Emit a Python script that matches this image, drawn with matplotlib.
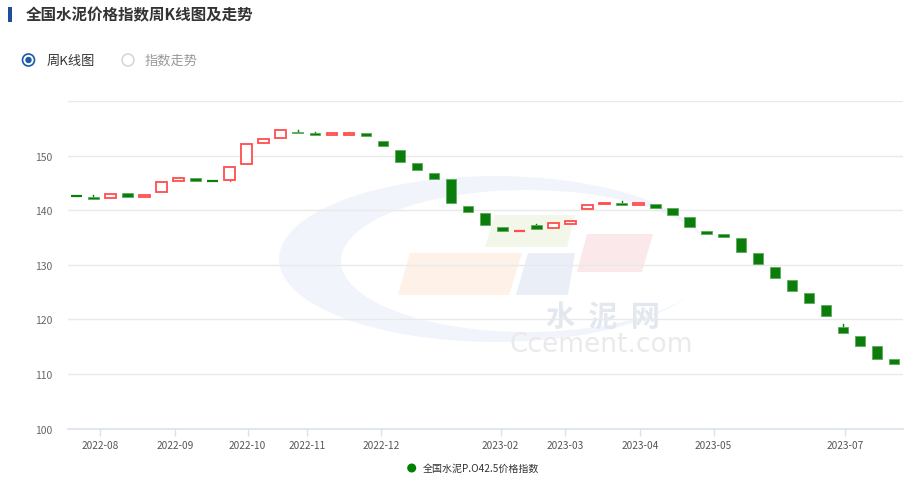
import matplotlib
matplotlib.use("Agg")
import matplotlib.pyplot as plt
from matplotlib.patches import Rectangle, Ellipse, Polygon, Circle
import numpy as np

plt.rcParams['font.family'] = ['Noto Sans CJK SC', 'DejaVu Sans']

# ---------------- data ----------------
opens = [142.65, 142.4, 142.2, 143.1, 142.45, 143.4, 145.3, 145.9, 145.45, 145.6,
         148.5, 152.4, 153.2, 154.4, 154.2, 153.8, 153.8, 154.1, 152.8, 151.1,
         148.7, 146.8, 145.8, 140.75, 139.5, 136.9, 136.15, 137.3, 136.8, 137.5,
         140.3, 141.2, 141.4, 140.9, 141.2, 140.5, 138.85, 136.3, 135.7, 134.9,
         132.1, 129.6, 127.2, 124.9, 122.6, 118.7, 117.0, 115.1, 112.8]
closes = [142.55, 142.0, 142.95, 142.45, 142.8, 145.2, 145.9, 145.45, 145.35, 148.0,
          152.1, 153.1, 154.7, 154.1, 153.8, 154.1, 154.2, 153.6, 151.75, 148.8,
          147.35, 145.8, 141.4, 139.7, 137.3, 136.2, 136.25, 136.5, 137.6, 138.05,
          141.05, 141.4, 141.05, 141.3, 140.4, 139.1, 136.9, 135.6, 135.2, 132.4,
          130.2, 127.65, 125.3, 123.1, 120.7, 117.5, 115.2, 112.8, 111.9]
highs = [142.65, 142.8, 142.95, 143.1, 142.8, 145.2, 145.9, 145.9, 145.45, 148.0,
         152.1, 153.1, 154.7, 154.7, 154.4, 154.1, 154.3, 154.1, 152.8, 151.1,
         148.7, 146.8, 145.8, 140.75, 139.5, 136.9, 136.25, 137.55, 137.6, 138.05,
         141.05, 141.4, 141.7, 141.3, 141.2, 140.5, 138.85, 136.3, 135.7, 134.9,
         132.1, 129.6, 127.2, 124.9, 122.6, 119.2, 117.0, 115.1, 112.8]
lows = [142.55, 142.0, 142.2, 142.45, 142.45, 143.4, 145.3, 145.45, 145.35, 145.3,
        148.5, 152.4, 153.2, 154.1, 153.8, 153.8, 153.8, 153.6, 151.75, 148.8,
        147.35, 145.8, 141.4, 139.7, 137.3, 136.2, 136.15, 136.5, 136.8, 137.5,
        140.3, 141.2, 141.05, 140.9, 140.4, 139.1, 136.9, 135.6, 135.2, 132.4,
        130.2, 127.65, 125.3, 123.1, 120.7, 117.5, 115.2, 112.8, 111.9]

tick_labels = ["2022-08", "2022-09", "2022-10", "2022-11", "2022-12",
               "2023-02", "2023-03", "2023-04", "2023-05", "2023-07"]
tick_pos = [1.40, 5.82, 10.06, 13.56, 17.87, 24.9, 28.7, 33.1, 37.4, 45.1]

y_ticks = [100, 110, 120, 130, 140, 150, 160]
y_labels = ["100", "110", "120", "130", "140", "150", ""]

title = "全国水泥价格指数周K线图及走势"
series_name = "全国水泥P.O42.5价格指数"

UP = "#ff4d4d"
DOWN = "#0a7d0a"

# ---------------- figure ----------------
W, H = 916, 485
fig = plt.figure(figsize=(W / 100, H / 100), dpi=100)

# background axes in pixel coords
bg = fig.add_axes([0, 0, 1, 1], zorder=0)
bg.set_xlim(0, W)
bg.set_ylim(H, 0)
bg.axis("off")

# watermark swoosh
bg.add_patch(Ellipse((495, 260), 432, 166, facecolor="#f1f5fb", edgecolor="none"))
bg.add_patch(Ellipse((527, 262), 372, 142, facecolor="white", edgecolor="none"))
bg.add_patch(Polygon([(495, 216), (575, 216), (567, 248), (485, 248)], closed=True,
                     facecolor="#f2f7ea", edgecolor="none"))
bg.add_patch(Polygon([(410, 254), (522, 254), (509, 296), (398, 296)], closed=True,
                     facecolor="#fdf1e8", edgecolor="none"))
bg.add_patch(Polygon([(528, 254), (575, 254), (568, 296), (516, 296)], closed=True,
                     facecolor="#eaeff7", edgecolor="none"))
bg.add_patch(Polygon([(587, 235), (653, 235), (642, 273), (577, 273)], closed=True,
                     facecolor="#fbe8ea", edgecolor="none"))
bg.text(603, 318, "水  泥  网", fontsize=21, fontweight="bold", color="#e3e8f0",
        ha="center", va="center")
bg.text(601, 345, "Ccement.com", fontsize=19, color="#eaeaea",
        ha="center", va="center", family="DejaVu Sans")

# title
bg.add_patch(Rectangle((8, 8), 4, 15, facecolor="#1f4e9a", edgecolor="none"))
bg.text(26, 15.5, title, fontsize=11.2, fontweight="bold", color="#333333",
        ha="left", va="center")

# radio buttons
bg.add_patch(Circle((28.5, 61), 6, facecolor="white", edgecolor="#1a5aa8", lw=1.2))
bg.add_patch(Circle((28.5, 61), 3.2, facecolor="#1a5aa8", edgecolor="none"))
bg.text(46.5, 61, "周K线图", fontsize=9.5, color="#333333", ha="left", va="center")
bg.add_patch(Circle((128, 61), 6, facecolor="white", edgecolor="#d0d0d0", lw=1.0))
bg.text(145, 61, "指数走势", fontsize=9.5, color="#999999", ha="left", va="center")

# legend
bg.add_patch(Circle((411.7, 469), 4.5, facecolor="#008000", edgecolor="none"))
bg.text(422.5, 469, series_name, fontsize=7.2, color="#333333", ha="left", va="center")

# ---------------- main axes ----------------
left, right, top, bottom = 67.7, 902.7, 102.3, 429.5
ax = fig.add_axes([left / W, (H - bottom) / H, (right - left) / W, (bottom - top) / H],
                  zorder=1)
ax.patch.set_alpha(0)

n = len(opens)
x = np.arange(n)
ax.set_xlim(-0.5, n - 0.5)
ax.set_ylim(100, 160)

bw = 0.62
for i in range(n):
    o, c, h, l = opens[i], closes[i], highs[i], lows[i]
    up = c >= o
    col = UP if up else DOWN
    lo_b, hi_b = min(o, c), max(o, c)
    # wicks
    if h > hi_b:
        ax.plot([x[i], x[i]], [hi_b, h], color=col, lw=1.0, zorder=3)
    if l < lo_b:
        ax.plot([x[i], x[i]], [l, lo_b], color=col, lw=1.0, zorder=3)
    height = hi_b - lo_b
    if height < 0.15:
        ax.plot([x[i] - bw / 2, x[i] + bw / 2], [(o + c) / 2] * 2, color=col, lw=1.6,
                zorder=3, solid_capstyle="butt")
    elif up:
        ax.add_patch(Rectangle((x[i] - bw / 2, lo_b), bw, height, facecolor="white",
                               edgecolor=col, lw=1.3, zorder=3))
    else:
        ax.add_patch(Rectangle((x[i] - bw / 2, lo_b), bw, height, facecolor=col,
                               edgecolor="#5cab5c", lw=0.6, zorder=3))

# grid / axes styling
ax.set_yticks(y_ticks)
ax.set_yticklabels(y_labels)
ax.yaxis.grid(True, color="#e9e9e9", lw=1.0)
ax.set_axisbelow(True)
ax.tick_params(axis="y", length=0, pad=11, labelsize=7.5, labelcolor="#666666")
ax.set_xticks(tick_pos)
ax.set_xticklabels(tick_labels)
ax.tick_params(axis="x", length=5, width=1, color="#dbe2ee", pad=3,
               labelsize=7.3, labelcolor="#555555")
for s in ["top", "right", "left"]:
    ax.spines[s].set_visible(False)
ax.spines["bottom"].set_color("#dbe2ee")
ax.spines["bottom"].set_linewidth(1.2)

fig.savefig("out.png", dpi=100)
